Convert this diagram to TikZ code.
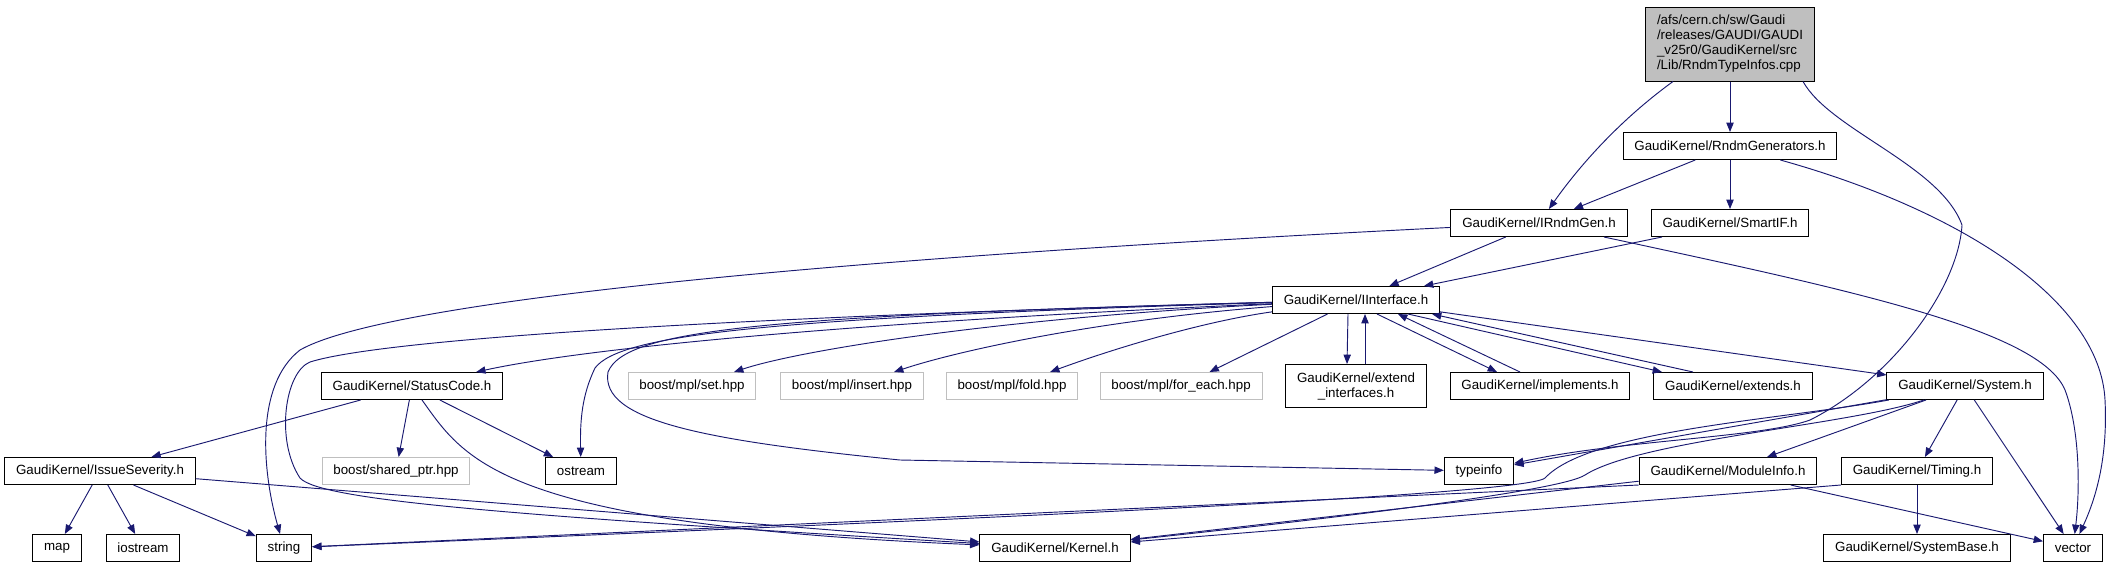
\documentclass[tikz,border=0pt]{standalone}
\usepackage{fontspec}
\setmainfont{Liberation Sans}
\usepackage{tikz}
\usetikzlibrary{arrows.meta,calc}
\definecolor{edgeblue}{HTML}{191970}
\definecolor{boxgray}{HTML}{BFBFBF}

\begin{document}
\begin{tikzpicture}[x=0.75pt, y=-0.75pt,
    file/.style={draw=black, line width=0.75pt, fill=white, inner xsep=8.5pt, inner ysep=2pt,
        minimum height=20.25pt, font=\fontsize{10pt}{11.25pt}\selectfont},
    sysfile/.style={file, draw=boxgray},
    dep/.style={draw=edgeblue, line width=0.7pt, -{Triangle[length=7pt,width=5.5pt]}}]
        \useasboundingbox (0,0) rectangle (2116,568);

        \node[file, fill=boxgray, align=left, minimum height=55.5pt] (src) at (1730,44)
            {/afs/cern.ch/sw/Gaudi\\/releases/GAUDI/GAUDI\\\_v25r0/GaudiKernel/src\\/Lib/RndmTypeInfos.cpp};
        \node[file] (rndmgen) at (1730,146) {GaudiKernel/RndmGenerators.h};
        \node[file] (irndmgen) at (1539,223) {GaudiKernel/IRndmGen.h};
        \node[file] (smartif) at (1730,223) {GaudiKernel/SmartIF.h};
        \node[file] (iface) at (1356,300) {GaudiKernel/IInterface.h};

        \node[file] (status) at (412,386) {GaudiKernel/StatusCode.h};
        \node[sysfile] (mplset) at (692,386) {boost/mpl/set.hpp};
        \node[sysfile] (mplinsert) at (852,386) {boost/mpl/insert.hpp};
        \node[sysfile] (mplfold) at (1012,386) {boost/mpl/fold.hpp};
        \node[sysfile] (mplforeach) at (1181,386) {boost/mpl/for\_each.hpp};
        \node[file, align=center, minimum height=32.25pt] (extifaces) at (1356,386) {GaudiKernel/extend\\\_interfaces.h};
        \node[file] (implements) at (1540,386) {GaudiKernel/implements.h};
        \node[file] (extends) at (1733,386) {GaudiKernel/extends.h};
        \node[file] (system) at (1965,386) {GaudiKernel/System.h};

        \node[file] (severity) at (100,471) {GaudiKernel/IssueSeverity.h};
        \node[sysfile] (sharedptr) at (396,471) {boost/shared\_ptr.hpp};
        \node[file] (ostream) at (581,471) {ostream};
        \node[file] (typeinfo) at (1479,471) {typeinfo};
        \node[file] (modinfo) at (1728,471) {GaudiKernel/ModuleInfo.h};
        \node[file] (timing) at (1917,471) {GaudiKernel/Timing.h};

        \node[file] (map) at (57,548) {map};
        \node[file] (iostream) at (143,548) {iostream};
        \node[file] (string) at (284,548) {string};
        \node[file] (kernel) at (1055,548) {GaudiKernel/Kernel.h};
        \node[file] (sysbase) at (1917,548) {GaudiKernel/SystemBase.h};
        \node[file] (vector) at (2073,548) {vector};

        \draw[dep] (src) -- (rndmgen);
        \draw[dep] ($(src.south)+(-57,0)$) .. controls (1620,120) and (1580,165) .. (irndmgen);
        \draw[dep] ($(src.south)+(73,0)$) .. controls (1830,130) and (1940,165) .. (1962,225)
            .. controls (1958,290) and (1890,380) .. (1810,420)
            .. controls (1760,438) and (1620,440) .. (typeinfo);

        \draw[dep] (rndmgen) -- (irndmgen);
        \draw[dep] (rndmgen) -- (smartif);
        \draw[dep] (rndmgen) .. controls (1960,210) and (2100,300) .. (2105,400)
            .. controls (2108,460) and (2095,500) .. (vector);

        \draw[dep] (irndmgen) -- (iface);
        \draw[dep] (irndmgen) .. controls (700,265) and (370,310) .. (300,350)
            .. controls (255,385) and (262,470) .. (string);
        \draw[dep] (irndmgen) .. controls (1850,290) and (2040,330) .. (2065,390)
            .. controls (2080,430) and (2080,490) .. (vector);
        \draw[dep] (smartif) -- (iface);

        \draw[dep] (iface) .. controls (900,320) and (600,345) .. (status);
        \draw[dep] (iface) .. controls (700,318) and (380,340) .. (310,362)
            .. controls (285,372) and (275,440) .. (300,478)
            .. controls (320,500) and (500,515) .. (kernel);
        \draw[dep] (iface) .. controls (1000,318) and (800,350) .. (mplset);
        \draw[dep] (iface) .. controls (1100,320) and (960,350) .. (mplinsert);
        \draw[dep] (iface) .. controls (1200,322) and (1110,350) .. (mplfold);
        \draw[dep] (iface) -- (mplforeach);
        \draw[dep] (iface) .. controls (760,318) and (620,335) .. (595,368)
            .. controls (582,395) and (580,420) .. (ostream);
        \draw[dep] (iface) .. controls (760,316) and (625,330) .. (608,372)
            .. controls (600,420) and (700,440) .. (900,460) -- (typeinfo);
        \draw[dep] ($(iface.south)+(-8,0)$) -- ($(extifaces.north)+(-9,0)$);
        \draw[dep] ($(extifaces.north)+(9,0)$) -- ($(iface.south)+(9,0)$);
        \draw[dep] ($(iface.south)+(21,0)$) -- ($(implements.north)+(-43,0)$);
        \draw[dep] ($(implements.north)+(-20,0)$) -- ($(iface.south)+(42,0)$);
        \draw[dep] ($(iface.south)+(52,0)$) -- ($(extends.north)+(-71,0)$);
        \draw[dep] ($(extends.north)+(-40,0)$) -- ($(iface.south)+(76,0)$);
        \draw[dep] (iface) -- (system);

        \draw[dep] (status) -- (severity);
        \draw[dep] (status) -- (sharedptr);
        \draw[dep] (status) -- (ostream);
        \draw[dep] (status) .. controls (465,460) and (500,525) .. (kernel);

        \draw[dep] (severity) -- (map);
        \draw[dep] (severity) -- (iostream);
        \draw[dep] (severity) -- (string);
        \draw[dep] (severity) -- (kernel);

        \draw[dep] (system) -- (typeinfo);
        \draw[dep] (system) -- (modinfo);
        \draw[dep] (system) -- (timing);
        \draw[dep] (system) -- (vector);
        \draw[dep] (system) .. controls (1780,420) and (1590,430) .. (1545,478)
            .. controls (1525,496) and (900,522) .. (string);
        \draw[dep] (system) .. controls (1850,425) and (1640,440) .. (1585,475)
            .. controls (1560,492) and (1300,522) .. (kernel);

        \draw[dep] (modinfo.south west) -- (string);
        \draw[dep] (modinfo) -- (kernel);
        \draw[dep] (modinfo) -- (vector);
        \draw[dep] (timing.south west) -- (kernel);
        \draw[dep] (timing) -- (sysbase);
    \end{tikzpicture}
\end{document}
